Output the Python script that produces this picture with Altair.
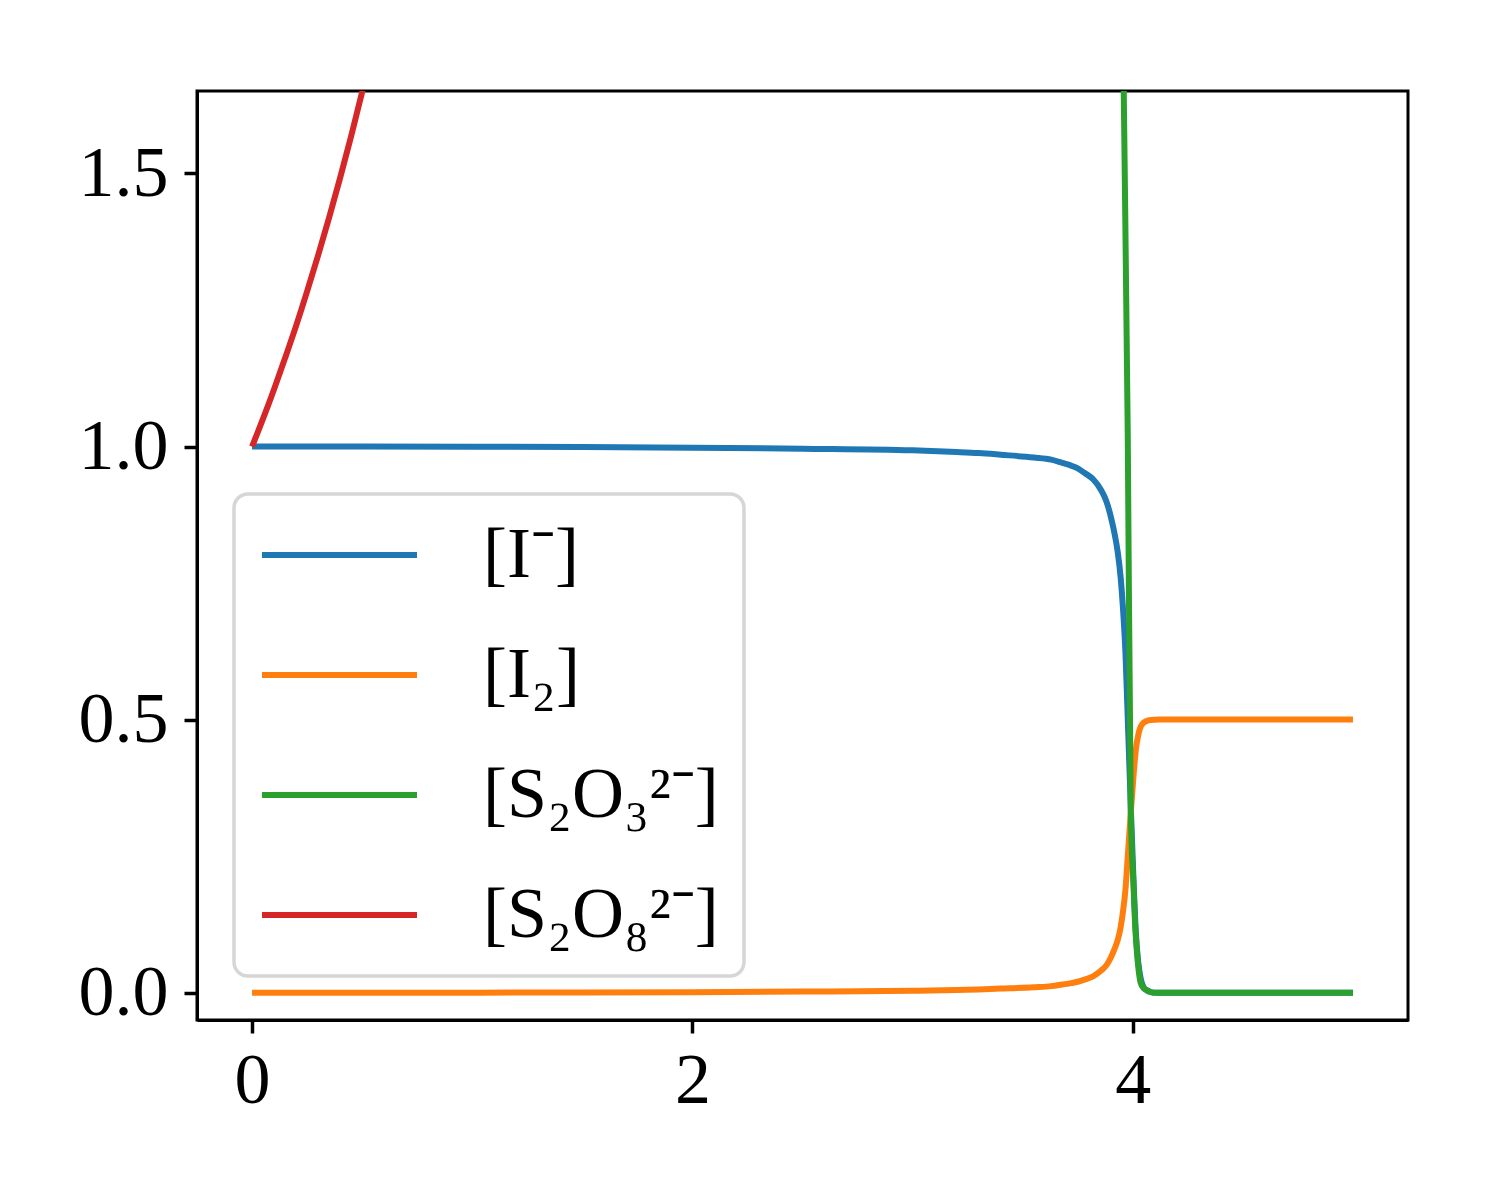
import altair as alt
import pandas as pd

# ---- data ----
labels = ["[I⁻]", "[I₂]", "[S₂O₃²⁻]", "[S₂O₈²⁻]"]
colors = ["#1f77b4", "#ff7f0e", "#2ca02c", "#d62728"]

iodide_t = [0.0, 0.5, 1.0, 1.5, 2.0, 2.5, 3.0, 3.2, 3.3, 3.4, 3.55, 3.63, 3.68,
            3.72, 3.75, 3.78, 3.82, 3.855, 3.88, 3.9, 3.915, 3.932, 3.945, 3.955,
            3.967, 3.977, 3.991, 4.003, 4.014, 4.025, 4.036, 4.048, 4.06, 4.08,
            4.12, 4.5, 5.0]
iodide_c = [1.0, 0.9999, 0.9998, 0.9993, 0.998, 0.996, 0.993, 0.99, 0.988, 0.985,
            0.98, 0.976, 0.97, 0.965, 0.96, 0.952, 0.94, 0.921, 0.9, 0.872, 0.845,
            0.806, 0.76, 0.707, 0.62, 0.505, 0.34, 0.21, 0.11, 0.055, 0.026,
            0.011, 0.005, 0.001, 0.0, 0.0, 0.0]

iodine_t = [0.0, 0.5, 1.0, 1.5, 2.0, 2.5, 3.0, 3.2, 3.3, 3.4, 3.55, 3.63, 3.68,
            3.72, 3.75, 3.78, 3.82, 3.855, 3.88, 3.9, 3.915, 3.932, 3.945, 3.955,
            3.967, 3.977, 3.991, 4.003, 4.014, 4.025, 4.036, 4.048, 4.06, 4.08,
            4.12, 4.5, 5.0]
iodine_c = [0.0, 0.00005, 0.0001, 0.0004, 0.001, 0.002, 0.0035, 0.005, 0.006,
            0.0075, 0.01, 0.012, 0.015, 0.0175, 0.02, 0.024, 0.03, 0.04, 0.05,
            0.064, 0.078, 0.097, 0.12, 0.147, 0.19, 0.248, 0.33, 0.395, 0.445,
            0.472, 0.487, 0.494, 0.497, 0.4995, 0.5, 0.5, 0.5]

thio_t = [3.90, 3.959, 3.977, 3.991, 4.003, 4.010, 4.018, 4.027, 4.036, 4.05,
          4.068, 4.09, 4.2, 5.0]
thio_c = [4.1, 1.65, 1.03, 0.33, 0.2, 0.13, 0.079, 0.04, 0.018, 0.008,
          0.004, 0.0, 0.0, 0.0]

persulf_t = [0.0, 0.05, 0.1, 0.15, 0.2, 0.25, 0.3, 0.35, 0.4, 0.45, 0.5, 0.55, 0.6]
persulf_c = [1.0, 1.051, 1.105, 1.162, 1.221, 1.284, 1.35, 1.419, 1.492, 1.568,
             1.649, 1.733, 1.822]

frames = []
for lab, ts, cs in zip(labels, [iodide_t, iodine_t, thio_t, persulf_t],
                       [iodide_c, iodine_c, thio_c, persulf_c]):
    frames.append(pd.DataFrame({"t": ts, "c": cs, "species": lab}))
df = pd.concat(frames, ignore_index=True)

FONT = "Liberation Serif"

color = alt.Color(
    "species:N",
    scale=alt.Scale(domain=labels, range=colors),
    legend=alt.Legend(
        title=None,
        orient="none",
        legendX=37,
        legendY=403,
        symbolType="stroke",
        symbolSize=24025,
        symbolStrokeWidth=6,
        clipHeight=72,
        rowPadding=48,
        padding=25,
        labelOffset=63,
        labelFontSize=72,
        labelFont=FONT,
        labelColor="black",
        labelLimit=600,
        fillColor="rgba(255,255,255,0.8)",
        strokeColor="#d6d6d6",
        cornerRadius=14,
    ),
)

x = alt.X("t:Q", title=None,
          scale=alt.Scale(domain=[-0.25, 5.25], nice=False, zero=False),
          axis=alt.Axis(values=[0, 2, 4], format="d", labelPadding=12))
y = alt.Y("c:Q", title=None,
          scale=alt.Scale(domain=[-0.05, 1.651], nice=False, zero=False),
          axis=alt.Axis(values=[0, 0.5, 1.0, 1.5], format=".1f", labelPadding=16))

layers = []
for lab in labels:
    layers.append(
        alt.Chart(df)
        .transform_filter(alt.datum.species == lab)
        .mark_line(strokeWidth=6, clip=True, interpolate="monotone")
        .encode(x=x, y=y, color=color)
    )

chart = (
    alt.layer(*layers)
    .properties(
        width=1211,
        height=929,
        autosize=alt.AutoSizeParams(type="none"),
        padding={"left": 189, "top": 83, "right": 60, "bottom": 150},
    )
    .configure_view(stroke="black", strokeWidth=3)
    .configure_legend(strokeWidth=3.5)
    .configure_axis(
        grid=False,
        domainColor="black",
        domainWidth=3,
        tickColor="black",
        tickWidth=3.5,
        tickSize=13,
        labelFont=FONT,
        labelFontSize=72,
        labelColor="black",
    )
)

chart.save("out.html", embed_options={"renderer": "svg", "actions": False})
